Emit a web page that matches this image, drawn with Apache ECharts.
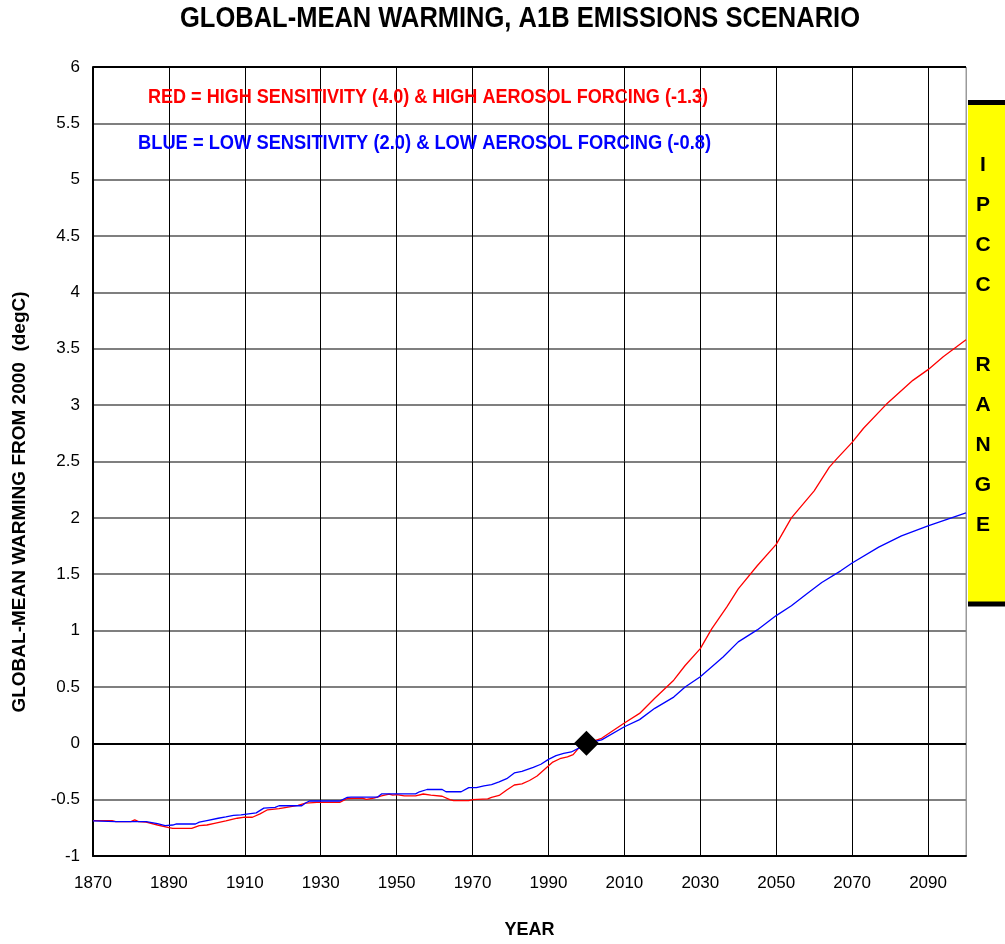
<!DOCTYPE html>
<html>
<head>
<meta charset="utf-8">
<script src="https://cdn.jsdelivr.net/npm/echarts@6/dist/echarts.min.js"></script>
<style>
html,body{margin:0;padding:0;background:#fff;}
#chart{width:1005px;height:944px;}
</style>
</head>
<body>
<div id="chart"></div>
<script>
// ---- data ----
const chartTitle = "GLOBAL-MEAN WARMING, A1B EMISSIONS SCENARIO";
const yAxisTitle = "GLOBAL-MEAN WARMING FROM 2000  (degC)";
const xAxisTitle = "YEAR";
const redLabel = "RED = HIGH SENSITIVITY (4.0) & HIGH AEROSOL FORCING (-1.3)";
const blueLabel = "BLUE = LOW SENSITIVITY (2.0) & LOW AEROSOL FORCING (-0.8)";
const ipccLabel = "IPCC RANGE";
const ipccRange = [1.24, 5.69];

const redYears = [1870,1875,1876,1880,1881,1882,1884,1887,1890,1891,1896,1898,1900,1902,1905,1908,1910,1912,1914,1916,1919,1921,1924,1926,1929,1935,1937,1941,1942,1944,1946,1948,1949,1950,1952,1955,1957,1959,1962,1964,1965,1969,1970,1974,1975,1977,1979,1981,1983,1985,1987,1989,1991,1993,1995,1996.5,1998,2000,2004,2010,2014,2018,2023,2026,2030,2033,2037,2040,2045,2050,2054,2060,2064,2066,2070,2073,2079,2086,2090,2094,2100];
const redValues = [-0.686,-0.686,-0.695,-0.695,-0.68,-0.695,-0.70,-0.725,-0.748,-0.755,-0.755,-0.73,-0.725,-0.71,-0.689,-0.665,-0.656,-0.656,-0.626,-0.59,-0.58,-0.569,-0.55,-0.53,-0.524,-0.524,-0.49,-0.487,-0.497,-0.487,-0.467,-0.45,-0.46,-0.455,-0.466,-0.466,-0.45,-0.46,-0.47,-0.50,-0.509,-0.509,-0.50,-0.494,-0.48,-0.463,-0.414,-0.37,-0.36,-0.33,-0.29,-0.23,-0.17,-0.137,-0.12,-0.10,-0.04,0,0.044,0.18,0.265,0.40,0.56,0.69,0.84,1.015,1.21,1.37,1.575,1.765,2.0,2.24,2.45,2.525,2.67,2.795,3.007,3.22,3.315,3.43,3.58];

const blueYears = [1870,1876,1884,1887,1889,1891,1892,1897,1898,1900,1903,1905,1907,1909,1911,1913,1915,1918,1919,1925,1926,1927,1935,1937,1938,1945,1946,1955,1956,1958,1962,1963,1967,1969,1971,1973,1975,1977,1979,1981,1983,1986,1988,1990,1992,1994,1996,1998,2000,2004,2010,2014,2018,2023,2026,2030,2036,2040,2045,2050,2054,2058,2062,2067,2070,2077,2083,2090,2095,2100];
const blueValues = [-0.689,-0.695,-0.695,-0.713,-0.73,-0.725,-0.716,-0.716,-0.70,-0.686,-0.665,-0.653,-0.64,-0.635,-0.626,-0.617,-0.575,-0.569,-0.554,-0.554,-0.53,-0.512,-0.512,-0.48,-0.477,-0.477,-0.449,-0.449,-0.43,-0.41,-0.41,-0.43,-0.43,-0.394,-0.394,-0.377,-0.366,-0.343,-0.314,-0.263,-0.25,-0.214,-0.186,-0.143,-0.109,-0.09,-0.077,-0.043,0,0.03,0.147,0.21,0.31,0.41,0.50,0.59,0.765,0.90,1.006,1.133,1.22,1.324,1.427,1.53,1.60,1.74,1.84,1.928,1.986,2.045];

const anchorPoint = [[2000, 0]];

const xMin = 1870, xMax = 2100, xStep = 20;
const yMin = -1, yMax = 6, yStep = 0.5;

// ---- chart ----
const SANS = '"Liberation Sans",Arial,Helvetica,sans-serif';

// condensed look: Liberation Sans Bold squeezed horizontally to the reference widths
const measureCtx = document.createElement('canvas').getContext('2d');
function squeeze(text, font, targetWidth) {
  measureCtx.font = font;
  return targetWidth / measureCtx.measureText(text).width;
}

const chart = echarts.init(document.getElementById('chart'), null, {renderer: 'canvas'});

const ySplitColors = [];
for (let v = yMin; v <= yMax + 1e-9; v += yStep) {
  ySplitColors.push((Math.abs(v) < 1e-9 || Math.abs(v - yMax) < 1e-9 || Math.abs(v - yMin) < 1e-9) ? '#000' : '#7f7f7f');
}
const xSplitColors = [];
for (let v = xMin; v < xMax; v += xStep) xSplitColors.push('#000');
xSplitColors.push('#9a9a9a');

const pairs = (xs, ys) => xs.map((x, i) => [x, ys[i]]);

chart.setOption({
  animation: false,
  backgroundColor: '#fff',
  grid: {left: 93, right: 39, top: 67, bottom: 84, show: true, borderColor: '#9a9a9a', borderWidth: 1},
  xAxis: {
    type: 'value', min: xMin, max: xMax, interval: xStep,
    name: xAxisTitle, nameLocation: 'middle', nameGap: 65,
    nameTextStyle: {fontFamily: SANS, fontWeight: 'bold', fontSize: 18, color: '#000'},
    axisLine: {show: true, onZero: false, lineStyle: {color: '#000', width: 2}},
    axisTick: {show: false},
    axisLabel: {showMaxLabel: false, fontFamily: SANS, fontSize: 17, color: '#000', margin: 19,
                formatter: v => String(v)},
    splitLine: {show: true, lineStyle: {color: xSplitColors, width: 1}}
  },
  yAxis: {
    type: 'value', min: yMin, max: yMax, interval: yStep,
    axisLine: {show: true, onZero: false, lineStyle: {color: '#000', width: 2}},
    axisTick: {show: false},
    axisLabel: {fontFamily: SANS, fontSize: 17, color: '#000', margin: 13,
                formatter: v => String(v)},
    splitLine: {show: true, lineStyle: {color: ySplitColors, width: 2}}
  },
  series: [
    {type: 'line', data: pairs(redYears, redValues), showSymbol: false, symbol: 'none',
     lineStyle: {color: '#ff0000', width: 1.3}, z: 3},
    {type: 'line', data: pairs(blueYears, blueValues), showSymbol: false, symbol: 'none',
     lineStyle: {color: '#0000ff', width: 1.3}, z: 3},
    {type: 'scatter', data: anchorPoint, symbol: 'diamond', symbolSize: 25,
     itemStyle: {color: '#000', opacity: 1}, z: 5}
  ]
});

// IPCC range box positioned through the y scale
const yTop = chart.convertToPixel({yAxisIndex: 0}, ipccRange[1]);
const yBot = chart.convertToPixel({yAxisIndex: 0}, ipccRange[0]);
const xRight = chart.convertToPixel({xAxisIndex: 0}, xMax);
const W = chart.getWidth();
const boxX = xRight + 2;

const titleFont = 'bold 29px "Liberation Sans"';
const labelFont = 'bold 20px "Liberation Sans"';

chart.setOption({
  graphic: [
    {type: 'text', x: 520, y: 19, z: 10, scaleX: squeeze(chartTitle, titleFont, 680),
     style: {text: chartTitle, font: titleFont, fill: '#000', align: 'center', verticalAlign: 'middle'}},
    {type: 'text', x: 148, y: 97, z: 10, scaleX: squeeze(redLabel, labelFont, 560),
     style: {text: redLabel, font: labelFont, fill: '#ff0000', verticalAlign: 'middle'}},
    {type: 'text', x: 138, y: 143, z: 10, scaleX: squeeze(blueLabel, labelFont, 573),
     style: {text: blueLabel, font: labelFont, fill: '#0000ff', verticalAlign: 'middle'}},
    {type: 'text', x: 20, y: 502, rotation: Math.PI / 2, z: 10,
     style: {text: yAxisTitle, font: 'bold 19px ' + SANS, fill: '#000', align: 'center', verticalAlign: 'middle'}},
    {type: 'rect', z: 10, shape: {x: boxX, y: yTop, width: W - boxX, height: yBot - yTop},
     style: {fill: '#ffff00'}},
    {type: 'rect', z: 11, shape: {x: boxX, y: yTop - 2, width: W - boxX, height: 5},
     style: {fill: '#000'}},
    {type: 'rect', z: 11, shape: {x: boxX, y: yBot - 2, width: W - boxX, height: 5},
     style: {fill: '#000'}},
    {type: 'text', z: 12, x: 983, y: (yTop + yBot) / 2 - 8,
     style: {text: ipccLabel.split('').join('\n'), font: 'bold 21px ' + SANS, lineHeight: 40,
             fill: '#000', align: 'center', verticalAlign: 'middle'}}
  ]
});
</script>
</body>
</html>
